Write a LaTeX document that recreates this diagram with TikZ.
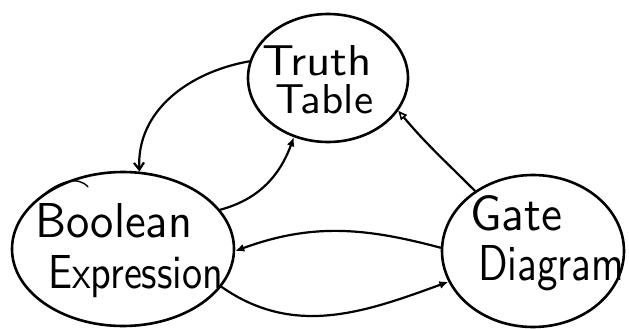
\documentclass[tikz,border=0pt]{standalone}
\usetikzlibrary{shapes.geometric,arrows.meta}
\begin{document}
\begin{tikzpicture}[x=1pt,y=1pt,line cap=round,line join=round,
  blob/.style={ellipse,draw,line width=2.6pt,inner sep=0pt},
  word/.style={font=\sffamily,anchor=base west,inner sep=0pt},
  conn/.style={line width=2.2pt},
  solidtip/.style={-{Latex[length=9pt,width=8pt]}},
  barbtip/.style={-{Straight Barb[length=7pt,width=10pt]}},
  opentip/.style={-{Triangle[open,length=9pt,width=8pt,line width=1.6pt]}}]
\useasboundingbox (0,0) rectangle (629,-329);
% ovals
\node[blob,minimum width=160pt,minimum height=128pt] (tt) at (328,-78) {};
\node[blob,minimum width=222pt,minimum height=154pt] (be) at (123,-249) {};
\node[blob,minimum width=182pt,minimum height=152pt] (gd) at (533,-251) {};
% pen overlap on the left oval
\draw[line width=1.4pt] (42,-196) .. controls (58,-182) and (78,-175) .. (88,-187);
% labels
\node[word] (w1) at (262,-75)  {\resizebox{110pt}{30pt}{Truth}};
\node[word] (w2) at (275,-113) {\resizebox{98pt}{29pt}{Table}};
\node[word] (w3) at (35,-237)  {\resizebox{157pt}{34pt}{Boolean}};
\node[word] (w4) at (48,-288)  {\resizebox{175pt}{33pt}{Expression}};
\node[word] (w5) at (470,-230) {\resizebox{92pt}{35pt}{Gate}};
\node[word] (w6) at (478,-280) {\resizebox{146pt}{35pt}{Diagram}};
% connectors
\draw[conn,barbtip] (tt.168) to[out=190,in=93] (be.78);
\draw[conn,solidtip] (be.22) to[out=15,in=250] (tt.240);
\draw[conn,opentip] (gd.134) to[out=135,in=-50] (tt.335);
\draw[conn,solidtip] (gd.178) to[out=165,in=20] (be.359);
\draw[conn,solidtip] (be.339) to[out=-35,in=200] (gd.200);
\end{tikzpicture}
\end{document}
